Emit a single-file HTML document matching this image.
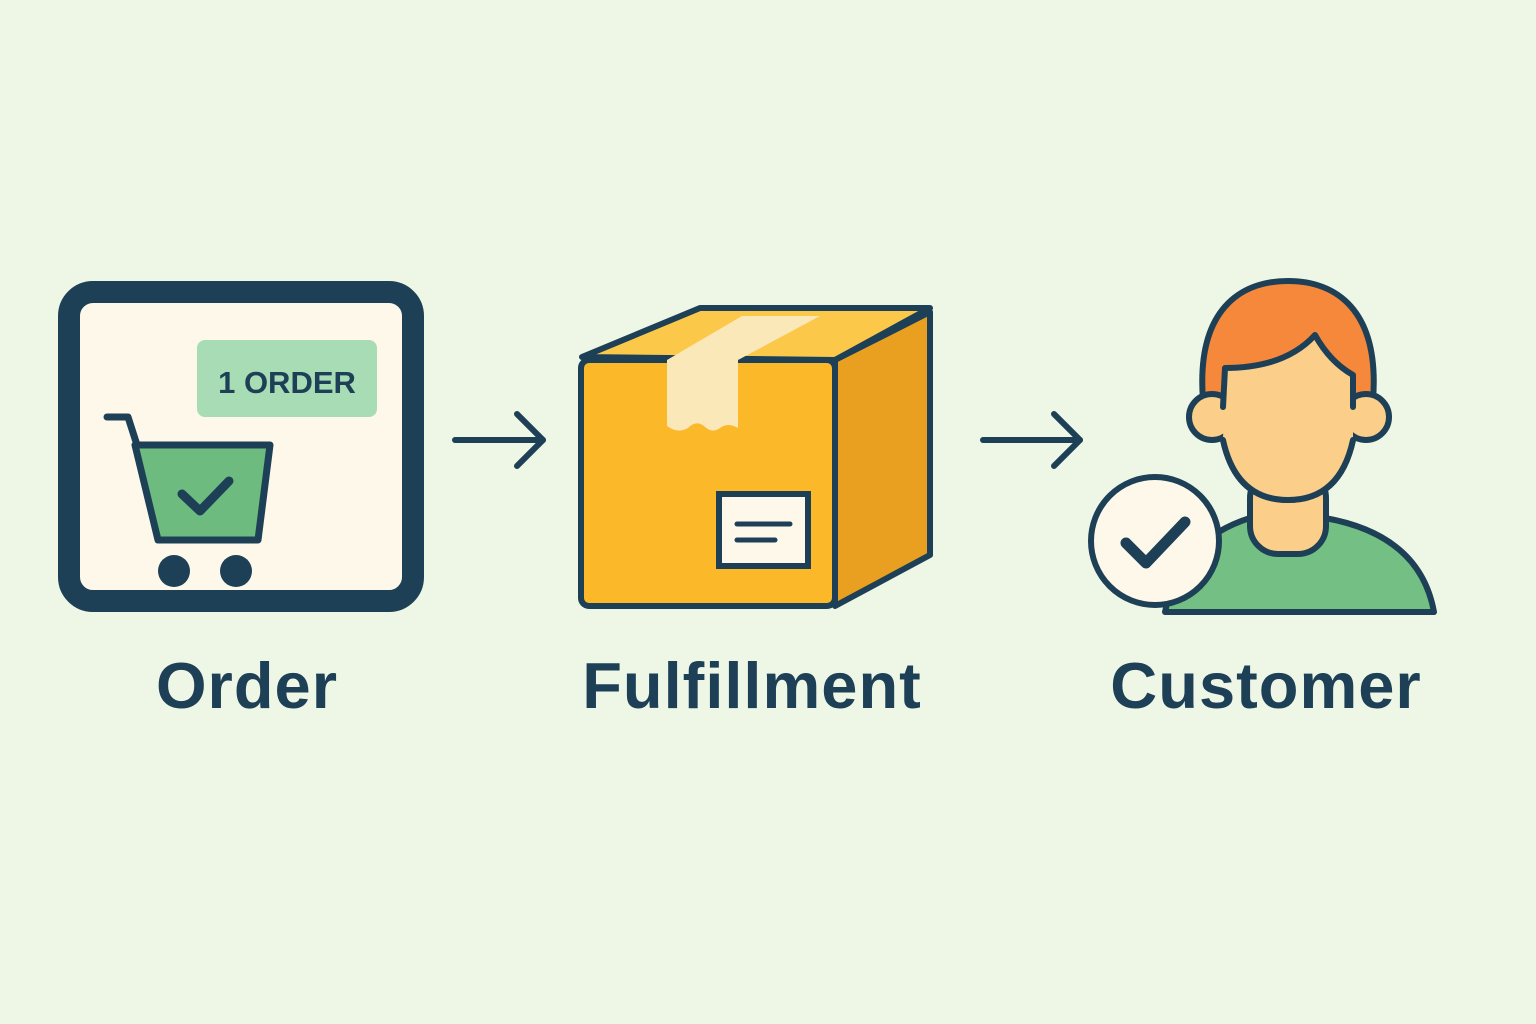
<!DOCTYPE html>
<html><head><meta charset="utf-8"><style>
html,body{margin:0;padding:0;background:#eef6e6;}
svg{display:block}
text{font-family:"Liberation Sans",sans-serif;font-weight:bold;fill:#1d4057}
</style></head><body>
<svg width="1536" height="1024" viewBox="0 0 1536 1024" xmlns="http://www.w3.org/2000/svg">
<rect width="1536" height="1024" fill="#eef6e6"/>
<!-- Order -->
<rect x="69" y="292" width="344" height="309" rx="24" fill="#fdf8ea" stroke="#1d4057" stroke-width="22"/>
<rect x="197" y="340" width="180" height="77" rx="8" fill="#a8dcb4"/>
<text x="287" y="393" font-size="31" text-anchor="middle">1 ORDER</text>
<g stroke="#1d4057" stroke-width="7" stroke-linejoin="round" stroke-linecap="round">
<polyline points="107,417 128,417 137,445" fill="none"/>
<polygon points="135,445 270,445 258,540 158,540" fill="#6dbb7e"/>
<polyline points="182,494 200,511 229,481" fill="none" stroke-width="9"/>
</g>
<circle cx="174" cy="571" r="16" fill="#1d4057"/>
<circle cx="236" cy="571" r="16" fill="#1d4057"/>
<text x="247" y="708" font-size="65" letter-spacing="1" text-anchor="middle">Order</text>
<!-- arrows -->
<g stroke="#1d4057" stroke-width="6" stroke-linecap="round" stroke-linejoin="round" fill="none">
<line x1="455" y1="440" x2="543" y2="440"/>
<polyline points="517,414 543,440 517,466"/>
<line x1="983" y1="440" x2="1080" y2="440"/>
<polyline points="1054,414 1080,440 1054,466"/>
</g>
<!-- Box -->
<g stroke="#1d4057" stroke-width="6" stroke-linejoin="round">
<polygon points="582,357 700,308 930,308 835,360" fill="#fcc84a"/>
<polygon points="835,360 930,312 930,555 835,606" fill="#e9a020"/>
<rect x="581" y="360" width="254" height="246" rx="8" fill="#fbb829"/>
</g>
<polygon points="667,360 738,360 820,316 742,316" fill="#fbe8b8"/>
<path d="M667,360 H738 V428 Q728,422 720,428 Q712,434 704,426 Q696,420 688,428 Q678,434 667,426 Z" fill="#fbe8b8"/>
<rect x="719" y="494" width="89" height="72" fill="#fdf8ea" stroke="#1d4057" stroke-width="6"/>
<line x1="737" y1="524" x2="790" y2="524" stroke="#1d4057" stroke-width="5" stroke-linecap="round"/>
<line x1="737" y1="540" x2="775" y2="540" stroke="#1d4057" stroke-width="5" stroke-linecap="round"/>
<text x="752" y="708" font-size="65" letter-spacing="1" text-anchor="middle">Fulfillment</text>
<!-- Customer -->
<g stroke="#1d4057" stroke-width="6" stroke-linejoin="round" stroke-linecap="round">
<path d="M1165,612 Q1180,540 1250,518 L1325,518 Q1420,535 1434,612 Z" fill="#74bf84"/>
<rect x="1250" y="470" width="76" height="84" rx="28" fill="#fbcf8a"/>
<path d="M1203,400 C1196,310 1240,281 1288,281 C1336,281 1380,310 1373,400 L1353,440 Q1340,500 1288,500 Q1236,500 1223,440 Z" fill="#f5883a"/>
<circle cx="1212" cy="417" r="23" fill="#fbcf8a"/>
<circle cx="1366" cy="417" r="23" fill="#fbcf8a"/>
<path d="M1225,368 Q1285,368 1315,335 Q1330,362 1353,375 L1353,440 Q1340,500 1288,500 Q1236,500 1223,440 Z" fill="#fbcf8a" stroke="none"/>
<path d="M1223,407 L1225,368 Q1285,368 1315,335 Q1330,362 1353,375 L1353,407" fill="none"/>
<path d="M1223,440 Q1236,500 1288,500 Q1340,500 1353,440" fill="none"/>
<circle cx="1155" cy="541" r="64" fill="#fdf8ea"/>
<polyline points="1126,543 1146,563 1185,522" fill="none" stroke-width="11"/>
</g>
<text x="1266" y="708" font-size="65" letter-spacing="1" text-anchor="middle">Customer</text>
</svg>
</body></html>
